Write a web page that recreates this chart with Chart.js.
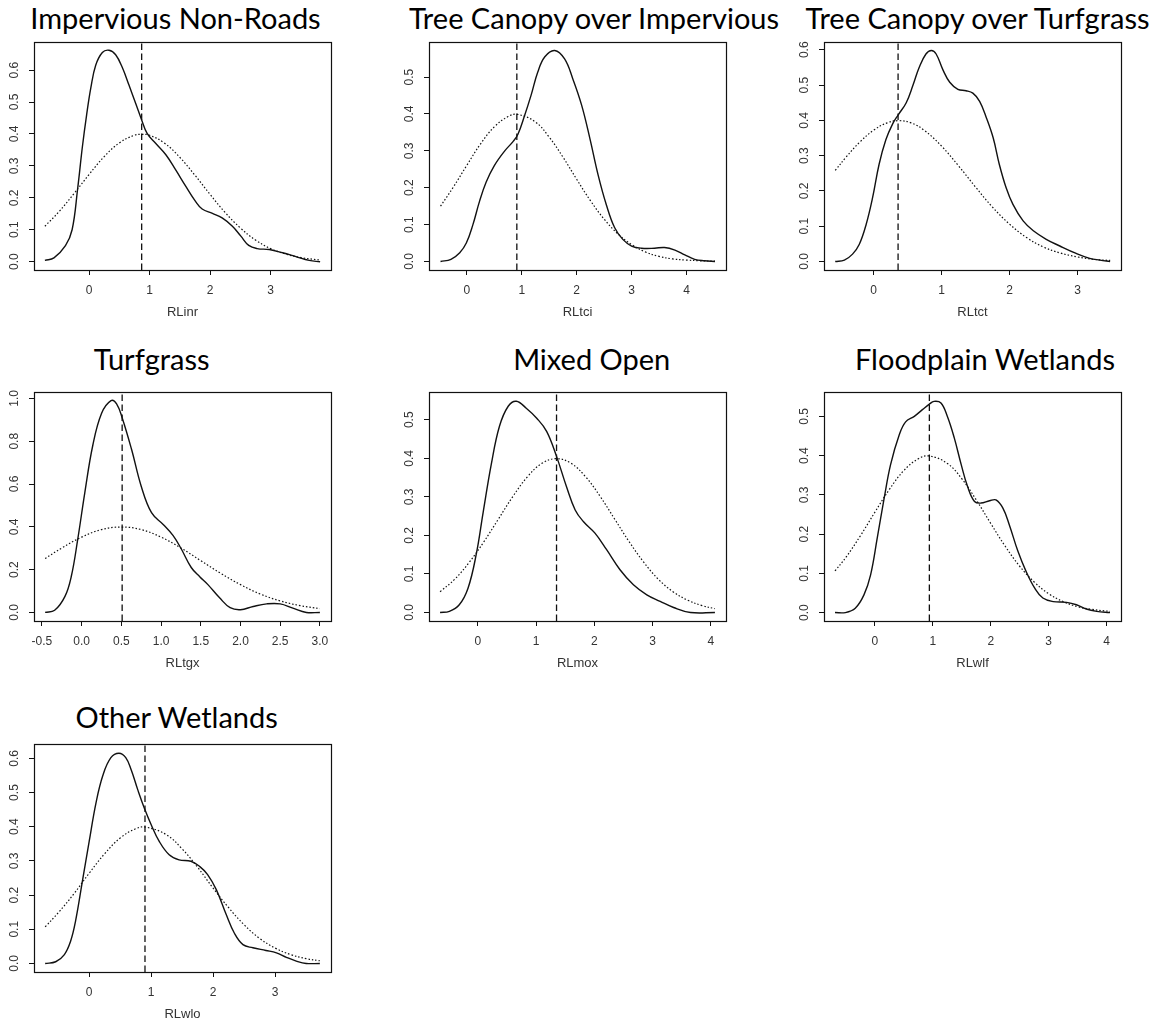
<!DOCTYPE html>
<html>
<head>
<meta charset="utf-8">
<script src="https://cdn.jsdelivr.net/npm/chart.js@4.4.1/dist/chart.umd.min.js"></script>
<style>
  body { margin: 0; background: #fff; }
  #page { position: relative; width: 1164px; height: 1023px; overflow: hidden; background: #fff; }
  .ttl { position: absolute; width: 600px; text-align: center; white-space: nowrap;
         font: 29px/29px Lato, "Open Sans", sans-serif; color: #000; }
  canvas { position: absolute; }
</style>
</head>
<body>
<div id="page"></div>
<script>
// solid = kernel density, dotted = normal reference, dashed = mean
const inrX = [-0.73,-0.58,-0.39,-0.28,-0.19,-0.11,-0.04,0.03,0.11,0.22,0.33,0.44,0.55,0.66,0.77,0.87,0.96,1.10,1.27,1.43,1.60,1.76,1.87,2.04,2.20,2.37,2.51,2.64,2.78,2.98,3.20,3.42,3.64,3.82];
const inrDensity = [0.004,0.012,0.05,0.10,0.226,0.36,0.46,0.545,0.615,0.655,0.662,0.648,0.608,0.553,0.496,0.444,0.402,0.371,0.335,0.288,0.236,0.189,0.165,0.151,0.137,0.111,0.08,0.051,0.041,0.038,0.028,0.016,0.004,0.0];
const inrNormX = [-0.73,-0.5,-0.25,0,0.25,0.5,0.75,0.87,1.0,1.25,1.5,1.75,2.0,2.25,2.5,2.75,3.0,3.25,3.5,3.82];
const inrNormal = [0.111,0.156,0.213,0.273,0.329,0.372,0.396,0.399,0.396,0.371,0.327,0.271,0.211,0.154,0.106,0.068,0.041,0.024,0.013,0.005];
const inrMean = 0.87;

const tciX = [-0.48,-0.29,-0.13,-0.01,0.11,0.23,0.35,0.50,0.69,0.84,0.93,1.05,1.17,1.29,1.42,1.60,1.78,1.93,2.09,2.24,2.39,2.54,2.69,2.84,3.00,3.18,3.42,3.60,3.79,3.97,4.15,4.33,4.52];
const tciDensity = [0.0,0.006,0.024,0.05,0.10,0.163,0.215,0.26,0.30,0.325,0.345,0.395,0.451,0.513,0.555,0.572,0.549,0.495,0.424,0.334,0.235,0.154,0.092,0.06,0.042,0.036,0.036,0.038,0.031,0.018,0.006,0.002,0.0];
const tciNormX = [-0.48,-0.25,0,0.25,0.5,0.75,0.92,1.25,1.5,1.75,2.0,2.25,2.5,2.75,3.0,3.25,3.5,3.75,4.0,4.25,4.52];
const tciNormal = [0.150,0.201,0.261,0.319,0.365,0.393,0.399,0.378,0.337,0.283,0.223,0.165,0.115,0.075,0.046,0.026,0.014,0.007,0.004,0.002,0.001];
const tciMean = 0.91;

const tctX = [-0.565,-0.43,-0.31,-0.21,-0.11,-0.015,0.08,0.18,0.28,0.36,0.48,0.58,0.67,0.77,0.85,0.92,1.02,1.12,1.24,1.36,1.46,1.56,1.66,1.76,1.85,1.95,2.05,2.20,2.35,2.54,2.74,2.98,3.18,3.33,3.48];
const tctDensity = [0.0,0.004,0.021,0.049,0.105,0.181,0.275,0.345,0.39,0.415,0.45,0.5,0.55,0.588,0.598,0.588,0.543,0.508,0.488,0.484,0.477,0.454,0.407,0.35,0.275,0.209,0.162,0.115,0.087,0.063,0.044,0.023,0.009,0.004,0.0];
const tctNormX = [-0.565,-0.4,-0.2,0,0.2,0.37,0.55,0.75,1.0,1.25,1.5,1.75,2.0,2.25,2.5,2.75,3.0,3.25,3.48];
const tctNormal = [0.258,0.297,0.339,0.372,0.393,0.399,0.393,0.371,0.327,0.271,0.211,0.154,0.106,0.068,0.041,0.024,0.013,0.006,0.003];
const tctMean = 0.36;

const tgxX = [-0.46,-0.34,-0.21,-0.13,-0.05,0.04,0.14,0.25,0.37,0.44,0.51,0.63,0.75,0.88,1.03,1.15,1.25,1.38,1.49,1.59,1.74,1.87,2.0,2.16,2.33,2.50,2.66,2.83,3.0];
const tgxDensity = [0.0,0.01,0.075,0.169,0.34,0.56,0.78,0.93,0.99,0.975,0.91,0.76,0.59,0.466,0.41,0.36,0.30,0.21,0.166,0.13,0.067,0.022,0.0125,0.028,0.04,0.04,0.02,0.0,0.0];
const tgxNormX = [-0.46,-0.25,0,0.25,0.5,0.75,1.0,1.25,1.5,1.75,2.0,2.25,2.5,2.75,3.0];
const tgxNormal = [0.252,0.301,0.352,0.387,0.399,0.387,0.352,0.301,0.242,0.183,0.130,0.086,0.054,0.032,0.018];
const tgxMean = 0.51;

const moxX = [-0.65,-0.49,-0.32,-0.17,-0.03,0.09,0.23,0.37,0.52,0.66,0.83,1.01,1.18,1.35,1.52,1.67,1.81,2.01,2.21,2.44,2.67,2.90,3.13,3.36,3.65,4.07];
const moxDensity = [0.0,0.003,0.02,0.063,0.15,0.26,0.385,0.483,0.535,0.548,0.53,0.504,0.47,0.405,0.327,0.266,0.236,0.206,0.163,0.111,0.072,0.046,0.029,0.013,0.0,0.0];
const moxNormX = [-0.65,-0.4,-0.15,0.1,0.35,0.6,0.85,1.1,1.35,1.6,1.85,2.1,2.35,2.6,2.85,3.1,3.35,3.6,3.85,4.07];
const moxNormal = [0.054,0.086,0.130,0.183,0.242,0.301,0.352,0.387,0.399,0.387,0.352,0.301,0.242,0.183,0.130,0.086,0.054,0.032,0.018,0.010];
const moxMean = 1.35;

const wlfX = [-0.69,-0.51,-0.34,-0.19,-0.075,0.04,0.16,0.27,0.42,0.53,0.68,0.82,0.94,1.02,1.14,1.25,1.37,1.49,1.60,1.72,1.83,1.98,2.09,2.21,2.32,2.47,2.61,2.76,2.90,3.08,3.31,3.48,3.65,3.83,4.06];
const wlfDensity = [0.0,0.0,0.011,0.045,0.096,0.19,0.292,0.377,0.453,0.486,0.50,0.517,0.531,0.538,0.534,0.50,0.445,0.377,0.321,0.283,0.279,0.285,0.287,0.266,0.224,0.156,0.105,0.062,0.037,0.028,0.026,0.02,0.009,0.003,0.0];
const wlfNormX = [-0.69,-0.5,-0.25,0,0.25,0.5,0.75,0.94,1.25,1.5,1.75,2.0,2.25,2.5,2.75,3.0,3.25,3.5,3.75,4.06];
const wlfNormal = [0.106,0.141,0.196,0.256,0.314,0.362,0.392,0.399,0.380,0.341,0.287,0.227,0.169,0.118,0.078,0.048,0.028,0.015,0.008,0.003];
const wlfMean = 0.94;

const wloX = [-0.71,-0.54,-0.40,-0.30,-0.22,-0.11,0.0,0.11,0.22,0.35,0.48,0.59,0.68,0.78,0.89,1.0,1.13,1.29,1.45,1.64,1.78,1.91,2.05,2.21,2.34,2.48,2.64,2.85,3.02,3.18,3.34,3.50,3.72];
const wloDensity = [0.0,0.005,0.026,0.065,0.124,0.24,0.357,0.47,0.55,0.602,0.615,0.602,0.565,0.51,0.454,0.406,0.357,0.318,0.303,0.299,0.284,0.26,0.216,0.143,0.089,0.055,0.046,0.038,0.031,0.018,0.007,0.0,0.0];
const wloNormX = [-0.71,-0.5,-0.25,0,0.25,0.5,0.75,0.91,1.25,1.5,1.75,2.0,2.25,2.5,2.75,3.0,3.25,3.5,3.72];
const wloNormal = [0.107,0.148,0.203,0.264,0.321,0.367,0.394,0.399,0.376,0.335,0.281,0.220,0.163,0.113,0.073,0.045,0.026,0.014,0.008];
const wloMean = 0.90;

// tick values
const xTicks3 = [0, 1, 2, 3];
const xTicks4 = [0, 1, 2, 3, 4];
const tgxTicks = [-0.5, 0.0, 0.5, 1.0, 1.5, 2.0, 2.5, 3.0];
const yTicks05 = [0, 0.1, 0.2, 0.3, 0.4, 0.5];
const yTicks06 = [0, 0.1, 0.2, 0.3, 0.4, 0.5, 0.6];
const yTicks10 = [0, 0.2, 0.4, 0.6, 0.8, 1.0];

const panels = [
  { title: "Impervious Non-Roads", xLabel: "RLinr", x: inrX, y: inrDensity, nx: inrNormX, ny: inrNormal, mean: inrMean,
    xTicks: xTicks3, yTicks: yTicks06, xr: [-0.91, 4.0], yr: [-0.026, 0.688], dec: 0,
    box: [34, 42, 297, 228], head: [175.5, 28.8] },
  { title: "Tree Canopy over Impervious", xLabel: "RLtci", x: tciX, y: tciDensity, nx: tciNormX, ny: tciNormal, mean: tciMean,
    xTicks: xTicks4, yTicks: yTicks05, xr: [-0.69, 4.72], yr: [-0.023, 0.595], dec: 0,
    box: [429, 42, 297, 228], head: [594, 28.8] },
  { title: "Tree Canopy over Turfgrass", xLabel: "RLtct", x: tctX, y: tctDensity, nx: tctNormX, ny: tctNormal, mean: tctMean,
    xTicks: xTicks3, yTicks: yTicks06, xr: [-0.73, 3.64], yr: [-0.024, 0.622], dec: 0,
    box: [824, 42, 297, 228], head: [977.5, 28.8] },
  { title: "Turfgrass", xLabel: "RLtgx", x: tgxX, y: tgxDensity, nx: tgxNormX, ny: tgxNormal, mean: tgxMean,
    xTicks: tgxTicks, yTicks: yTicks10, xr: [-0.6, 3.14], yr: [-0.04, 1.03], dec: 1,
    box: [34, 392, 297, 229], head: [151.7, 369.8] },
  { title: "Mixed Open", xLabel: "RLmox", x: moxX, y: moxDensity, nx: moxNormX, ny: moxNormal, mean: moxMean,
    xTicks: xTicks4, yTicks: yTicks05, xr: [-0.84, 4.26], yr: [-0.022, 0.572], dec: 0,
    box: [429, 392, 297, 229], head: [591.7, 369.8] },
  { title: "Floodplain Wetlands", xLabel: "RLwlf", x: wlfX, y: wlfDensity, nx: wlfNormX, ny: wlfNormal, mean: wlfMean,
    xTicks: xTicks4, yTicks: yTicks05, xr: [-0.88, 4.25], yr: [-0.0215, 0.562], dec: 0,
    box: [824, 392, 297, 229], head: [985, 369.8] },
  { title: "Other Wetlands", xLabel: "RLwlo", x: wloX, y: wloDensity, nx: wloNormX, ny: wloNormal, mean: wloMean,
    xTicks: xTicks3, yTicks: yTicks06, xr: [-0.89, 3.9], yr: [-0.025, 0.642], dec: 0,
    box: [34, 744, 297, 228], head: [176.7, 727.2] },
];

const INK = "#111";
const LABEL = "#333";
const tickFont = { family: "'Liberation Sans', Arial, sans-serif", size: 12 };
const titleFont = { family: "'Liberation Sans', Arial, sans-serif", size: 13 };

const boxPlugin = {
  id: "box",
  afterDraw(chart) {
    const a = chart.chartArea;
    const ctx = chart.ctx;
    ctx.save();
    ctx.strokeStyle = INK;
    ctx.lineWidth = 1.2;
    ctx.strokeRect(Math.round(a.left) + 0.5, Math.round(a.top) + 0.5,
      Math.round(a.right - a.left), Math.round(a.bottom - a.top));
    ctx.restore();
  },
};

function pts(xs, ys) {
  return xs.map((v, i) => ({ x: v, y: ys[i] }));
}

function draw(p) {
  const page = document.getElementById("page");
  const [bl, bt, bw, bh] = p.box;

  const head = document.createElement("div");
  head.className = "ttl";
  head.textContent = p.title;
  head.style.left = (p.head[0] - 300) + "px";
  head.style.top = (p.head[1] - 25.7) + "px";
  page.appendChild(head);

  const cv = document.createElement("canvas");
  cv.width = bw + 42;
  cv.height = bh + 58;
  cv.style.left = (bl - 34) + "px";
  cv.style.top = (bt - 6) + "px";
  page.appendChild(cv);

  new Chart(cv.getContext("2d"), {
    type: "line",
    data: {
      datasets: [
        { data: pts(p.x, p.y), borderColor: INK, borderWidth: 1.4, pointRadius: 0, tension: 0.4 },
        { data: pts(p.nx, p.ny), borderColor: INK, borderWidth: 1.2, borderDash: [1.5, 2], pointRadius: 0, tension: 0.4 },
        { data: [{ x: p.mean, y: p.yr[0] }, { x: p.mean, y: p.yr[1] }], borderColor: INK, borderWidth: 1.3, borderDash: [6.5, 3.5], pointRadius: 0 },
      ],
    },
    options: {
      responsive: false,
      animation: false,
      devicePixelRatio: 1,
      layout: { padding: { left: 0, top: 6, right: 8, bottom: 0 } },
      plugins: { legend: { display: false }, tooltip: { enabled: false } },
      scales: {
        x: {
          type: "linear",
          min: p.xr[0],
          max: p.xr[1],
          afterBuildTicks: (s) => { s.ticks = p.xTicks.map((v) => ({ value: v })); },
          afterFit: (s) => { s.height = 52; s.paddingLeft = 0; s.paddingRight = 0; },
          border: { display: false },
          grid: { drawOnChartArea: false, drawTicks: true, tickLength: 5, color: INK, lineWidth: 1 },
          ticks: { autoSkip: false, maxRotation: 0, padding: 8, color: LABEL, font: tickFont,
                   callback: (v) => Number(v).toFixed(p.dec) },
          title: { display: true, text: p.xLabel, color: LABEL, font: titleFont, padding: { top: 0, bottom: 2 } },
        },
        y: {
          type: "linear",
          min: p.yr[0],
          max: p.yr[1],
          afterBuildTicks: (s) => { s.ticks = p.yTicks.map((v) => ({ value: v })); },
          afterFit: (s) => { s.width = 34; s.paddingTop = 0; s.paddingBottom = 0; },
          border: { display: false },
          grid: { drawOnChartArea: false, drawTicks: true, tickLength: 5, color: INK, lineWidth: 1 },
          ticks: { autoSkip: false, minRotation: 90, maxRotation: 90, crossAlign: "center", padding: 6,
                   color: LABEL, font: tickFont, callback: (v) => Number(v).toFixed(1) },
        },
      },
    },
    plugins: [boxPlugin],
  });
}

panels.forEach(draw);
</script>
</body>
</html>
